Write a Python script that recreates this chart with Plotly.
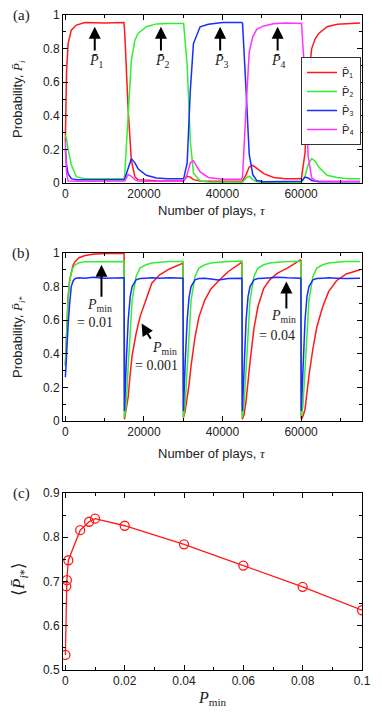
import plotly.graph_objects as go

# (a) mean probability of choosing each option
tau_a = [0, 300, 700, 1500, 2800, 5000, 10000,
         14900, 15100, 16000, 16800, 17700, 18500, 20600, 23200, 26000,
         29900, 30100, 31000, 31800, 32600, 34300, 36400, 40000,
         44900, 45100, 46000, 46800, 47700, 48700, 50500, 53000, 56000,
         59900, 60100, 61000, 61800, 62700, 63600, 64500, 66600, 69200, 72000, 75000]
p1 = [0.25, 0.66, 0.83, 0.91, 0.94, 0.955, 0.953,
      0.955, 0.9, 0.43, 0.135, 0.036, 0.02, 0.015, 0.013, 0.012,
      0.012, 0.013, 0.04, 0.035, 0.02, 0.012, 0.01, 0.01,
      0.01, 0.012, 0.05, 0.095, 0.105, 0.088, 0.056, 0.033, 0.025,
      0.025, 0.03, 0.18, 0.62, 0.8, 0.86, 0.89, 0.93, 0.945, 0.95, 0.953]
p2 = [0.285, 0.26, 0.2, 0.11, 0.036, 0.026, 0.025,
      0.025, 0.046, 0.43, 0.73, 0.85, 0.89, 0.93, 0.947, 0.95,
      0.952, 0.95, 0.7, 0.25, 0.06, 0.012, 0.006, 0.005,
      0.005, 0.005, 0.03, 0.04, 0.02, 0.008, 0.005, 0.005, 0.005,
      0.005, 0.005, 0.04, 0.11, 0.145, 0.13, 0.095, 0.046, 0.033, 0.026, 0.025]
p3 = [0.2, 0.11, 0.055, 0.026, 0.02, 0.02, 0.02,
      0.02, 0.025, 0.09, 0.145, 0.12, 0.085, 0.046, 0.03, 0.025,
      0.025, 0.025, 0.12, 0.55, 0.83, 0.93, 0.945, 0.955,
      0.955, 0.95, 0.55, 0.17, 0.05, 0.015, 0.008, 0.008, 0.008,
      0.008, 0.01, 0.035, 0.03, 0.015, 0.01, 0.008, 0.008, 0.008, 0.008, 0.008]
p4 = [0.25, 0.06, 0.012, 0.01, 0.01, 0.01, 0.01,
      0.01, 0.012, 0.05, 0.04, 0.02, 0.012, 0.01, 0.01, 0.01,
      0.01, 0.01, 0.05, 0.12, 0.132, 0.066, 0.033, 0.022,
      0.022, 0.04, 0.45, 0.78, 0.87, 0.915, 0.935, 0.948, 0.953,
      0.953, 0.95, 0.62, 0.16, 0.03, 0.015, 0.012, 0.01, 0.01, 0.01, 0.01]
names_a = ["P̄₁", "P̄₂", "P̄₃", "P̄₄"]
arrow_tau_a = [7480, 24330, 39400, 54030]
label_tau_a = [7910, 24660, 39650, 54280]
labels_a = ["<i>P̄</i><sub>1</sub>", "<i>P̄</i><sub>2</sub>", "<i>P̄</i><sub>3</sub>", "<i>P̄</i><sub>4</sub>"]

# (b) probability of the optimal option for three P_min values
tau_b = [0, 300, 700, 1100, 1500, 2000, 2500, 3500, 5000, 7000, 10000, 14950,
         15050, 15500, 16000, 16500, 17000, 18000, 19000, 20500, 22000, 24000, 26500, 29950,
         30050, 30500, 31000, 31500, 32000, 33000, 34000, 35500, 37000, 39000, 41500, 44950,
         45050, 45500, 46000, 46500, 47000, 48000, 49000, 50500, 52000, 54000, 56500, 59950,
         60050, 60500, 61000, 61500, 62000, 63000, 64000, 65500, 67000, 69000, 71500, 75000]
pb_0001 = [0.33, 0.55, 0.74, 0.84, 0.89, 0.93, 0.95, 0.972, 0.985, 0.993, 0.997, 0.998,
           0.01, 0.07, 0.145, 0.28, 0.39, 0.52, 0.62, 0.72, 0.82, 0.87, 0.905, 0.94,
           0.02, 0.06, 0.13, 0.22, 0.33, 0.5, 0.62, 0.72, 0.785, 0.835, 0.89, 0.945,
           0.01, 0.04, 0.12, 0.24, 0.35, 0.55, 0.68, 0.79, 0.84, 0.88, 0.91, 0.96,
           0.01, 0.03, 0.07, 0.17, 0.27, 0.43, 0.56, 0.68, 0.77, 0.835, 0.875, 0.9]
pb_001 = [0.33, 0.55, 0.73, 0.83, 0.88, 0.915, 0.93, 0.942, 0.948, 0.948, 0.95, 0.95,
          0.02, 0.1, 0.33, 0.56, 0.72, 0.86, 0.91, 0.93, 0.94, 0.945, 0.95, 0.95,
          0.02, 0.1, 0.33, 0.56, 0.72, 0.86, 0.91, 0.93, 0.94, 0.945, 0.95, 0.952,
          0.02, 0.1, 0.33, 0.56, 0.72, 0.86, 0.91, 0.93, 0.94, 0.945, 0.95, 0.95,
          0.02, 0.1, 0.33, 0.56, 0.72, 0.86, 0.91, 0.93, 0.94, 0.945, 0.95, 0.95]
pb_004 = [0.26, 0.42, 0.57, 0.7, 0.8, 0.835, 0.848, 0.852, 0.85, 0.855, 0.85, 0.852,
          0.06, 0.35, 0.6, 0.74, 0.8, 0.84, 0.848, 0.85, 0.852, 0.85, 0.852, 0.85,
          0.06, 0.35, 0.6, 0.74, 0.8, 0.84, 0.848, 0.85, 0.845, 0.84, 0.848, 0.85,
          0.06, 0.35, 0.6, 0.74, 0.8, 0.84, 0.848, 0.85, 0.852, 0.855, 0.852, 0.85,
          0.06, 0.35, 0.6, 0.74, 0.8, 0.84, 0.848, 0.85, 0.852, 0.85, 0.848, 0.85]

# (c) time-averaged optimal probability vs P_min
pmin = [0, 0.0003, 0.0005, 0.001, 0.005, 0.008, 0.01, 0.02, 0.04, 0.06, 0.08, 0.1]
p_avg = [0.534, 0.689, 0.703, 0.748, 0.816, 0.835, 0.842, 0.826, 0.784, 0.736, 0.688, 0.635]

RED, GREEN, BLUE, MAGENTA = "#ff1a1a", "#33ee33", "#1a2cff", "#ff33ff"
SANS = "Liberation Sans"
SERIF = "Liberation Serif"

fig = go.Figure()
for vals, name, col in zip([p1, p2, p3, p4], names_a, [RED, GREEN, BLUE, MAGENTA]):
    fig.add_trace(go.Scatter(x=tau_a, y=vals, mode="lines", name=name,
                             line=dict(color=col, width=1.5), xaxis="x", yaxis="y"))
for vals, col in zip([pb_0001, pb_001, pb_004], [RED, GREEN, BLUE]):
    fig.add_trace(go.Scatter(x=tau_b, y=vals, mode="lines", showlegend=False,
                             line=dict(color=col, width=1.5), xaxis="x2", yaxis="y2"))
fig.add_trace(go.Scatter(x=pmin, y=p_avg, mode="lines+markers", showlegend=False,
                         line=dict(color=RED, width=1.3),
                         marker=dict(symbol="circle-open", size=9, color=RED, line=dict(width=1.3)),
                         xaxis="x3", yaxis="y3"))

W, H = 382, 722
xdom = [63 / W, 362 / W]


def ydom(top, bottom):
    return [1 - bottom / H, 1 - top / H]


axis_common = dict(showline=True, linecolor="black", linewidth=1, mirror="ticks",
                   ticks="inside", ticklen=5, tickcolor="black", showgrid=False,
                   zeroline=False, automargin=False,
                   tickfont=dict(family=SANS, size=12, color="#222"))
minor_x = dict(ticks="inside", ticklen=3, tickcolor="black")

fig.update_layout(
    width=W, height=H, margin=dict(l=0, r=0, t=0, b=0),
    paper_bgcolor="white", plot_bgcolor="white",
    xaxis=dict(domain=xdom, anchor="y", range=[-600, 75500], dtick=20000, tickformat="d",
               minor=dict(dtick=10000, **minor_x), **axis_common),
    yaxis=dict(domain=ydom(15, 183), anchor="x", range=[0, 1], dtick=0.2,
               minor=dict(dtick=0.1, **minor_x), **axis_common),
    xaxis2=dict(domain=xdom, anchor="y2", range=[-600, 75500], dtick=20000, tickformat="d",
                minor=dict(dtick=10000, **minor_x), **axis_common),
    yaxis2=dict(domain=ydom(253, 421), anchor="x2", range=[0, 1], dtick=0.2,
                minor=dict(dtick=0.1, **minor_x), **axis_common),
    xaxis3=dict(domain=xdom, anchor="y3", range=[-0.0008, 0.1], dtick=0.02,
                minor=dict(dtick=0.01, **minor_x), **axis_common),
    yaxis3=dict(domain=ydom(493, 670), anchor="x3", range=[0.5, 0.9], dtick=0.1,
                minor=dict(dtick=0.05, **minor_x), **axis_common),
    legend=dict(x=361 / W, y=1 - 57 / H, xanchor="right", yanchor="top",
                bgcolor="white", bordercolor="#333", borderwidth=1, itemwidth=30,
                font=dict(family=SANS, size=11, color="#222"), tracegroupgap=0),
)


def paper_text(text, x, y, font, angle=0):
    return dict(text=text, x=x / W, y=1 - y / H, xref="paper", yref="paper",
                xanchor="center", yanchor="middle", textangle=angle,
                showarrow=False, font=font)


ann = []
# panel letters
for letter, top in [("(a)", 15), ("(b)", 253), ("(c)", 493)]:
    ann.append(paper_text(letter, 21, top, dict(family=SERIF, size=15, color="#222")))

# axis titles
sans13 = dict(family=SANS, size=13, color="#222")
tau_title = "Number of plays, <span style='font-family:Liberation Serif'><i>τ</i></span>"
ann.append(paper_text(tau_title, 212.5, 210, sans13))
ann.append(paper_text(tau_title, 212.5, 453, sans13))
ann.append(paper_text("Probability, <span style='font-family:Liberation Serif'><i>P̄</i><sub><i>i</i></sub></span>",
                      18, 99, sans13, -90))
ann.append(paper_text("Probability, <span style='font-family:Liberation Serif'><i>P̄</i><sub><i>i</i>*</sub></span>",
                      18, 337, sans13, -90))
ann.append(paper_text("⟨<i>P̄</i><sub><i>i</i>*</sub>⟩", 20, 579,
                      dict(family=SERIF, size=17, color="#222"), -90))
ann.append(paper_text("<i>P</i><sub>min</sub>", 212.5, 698,
                      dict(family=SERIF, size=16, color="#222")))

# (a) arrows and labels
for at, lt, lab in zip(arrow_tau_a, label_tau_a, labels_a):
    ann.append(dict(x=at, y=0.93, ax=at, ay=0.78, xref="x", yref="y", axref="x", ayref="y",
                    text="", showarrow=True, arrowhead=2, arrowsize=1.2, arrowwidth=2,
                    arrowcolor="black"))
    ann.append(dict(x=lt, y=0.725, xref="x", yref="y", text=lab, showarrow=False,
                    xanchor="center", yanchor="middle",
                    font=dict(family=SERIF, size=14, color="#222")))

# (b) arrows and labels
b_arrows = [(9190, 0.93, 9190, 0.73), (19400, 0.58, 21950, 0.48), (56250, 0.83, 56250, 0.66)]
for x0, y0, x1, y1 in b_arrows:
    ann.append(dict(x=x0, y=y0, ax=x1, ay=y1, xref="x2", yref="y2", axref="x2", ayref="y2",
                    text="", showarrow=True, arrowhead=2, arrowsize=1.2, arrowwidth=2,
                    arrowcolor="black"))
b_labels = [(8780, 0.69, "<i>P</i><sub>min</sub>"), (7480, 0.587, "= 0.01"),
            (25200, 0.43, "<i>P</i><sub>min</sub>"), (23230, 0.333, "= 0.001"),
            (55400, 0.62, "<i>P</i><sub>min</sub>"), (53860, 0.51, "= 0.04")]
for x0, y0, t in b_labels:
    ann.append(dict(x=x0, y=y0, xref="x2", yref="y2", text=t, showarrow=False,
                    xanchor="center", yanchor="middle",
                    font=dict(family=SERIF, size=14, color="#222")))

fig.update_layout(annotations=ann)
fig.write_html("out.html", config={"displayModeBar": False},
               post_script="document.body.style.margin='0';")
